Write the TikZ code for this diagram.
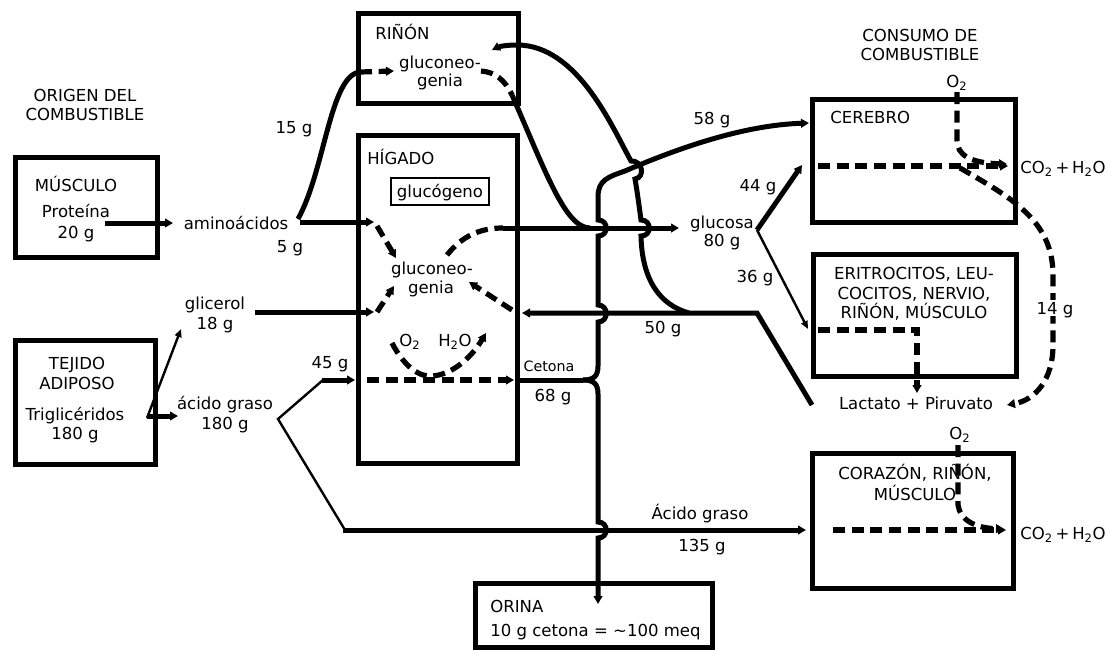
\documentclass[tikz,border=0pt]{standalone}
\usepackage{fontspec}
\setmainfont{DejaVu Sans}
\usetikzlibrary{arrows.meta}
\begin{document}
\begin{tikzpicture}[x=0.75pt,y=-0.75pt,
  lbl/.style={font=\fontsize{12.4}{14}\selectfont, inner sep=0pt, text height=9pt, text depth=0pt},
  small/.style={font=\fontsize{10.7}{12}\selectfont, inner sep=0pt, text height=7.8pt, text depth=0pt},
  box/.style={draw, line width=3.75pt},
  flow/.style={line width=3.75pt},
  thinl/.style={line width=1.8pt},
  dsh/.style={line width=3.9pt, dash pattern=on 9pt off 5pt},
  tip/.style={-{Triangle[length=6pt,width=6.5pt]}},
  tipthin/.style={-{Triangle[length=6pt,width=5pt]}}]
\useasboundingbox (0,0) rectangle (1108,650);
\fill[white] (0,0) rectangle (1108,650);

% headings
\node[lbl] (origen1) at (85,95) {ORIGEN DEL};
\node[lbl] (origen2) at (85,114) {COMBUSTIBLE};
\node[lbl] (consumo1) at (920,35) {CONSUMO DE};
\node[lbl] (consumo2) at (920,54) {COMBUSTIBLE};

% boxes
\draw[box] (15,157) rectangle (157,257);
\draw[box] (15,340) rectangle (155,464);
\draw[box] (358,13) rectangle (518,103);
\draw[box] (358,135) rectangle (517,463);
\draw[line width=1.9pt] (391,178) rectangle (489,205);
\draw[box] (812,99) rectangle (1015,222);
\draw[box] (813,254) rectangle (1016,376);
\draw[box] (812,453) rectangle (1013,588);
\draw[box] (475,583) rectangle (712,647);

% texts
\node[lbl] (musc) at (76,185) {MÚSCULO};
\node[lbl] (prot) at (76,211) {Proteína};
\node[lbl] (prot20) at (76,232) {20 g};
\node[lbl] (tej1) at (77,363) {TEJIDO};
\node[lbl] (tej2) at (77,383) {ADIPOSO};
\node[lbl] (trig) at (75,414) {Triglicéridos};
\node[lbl] (trig180) at (75,433) {180 g};
\node[lbl] (amino) at (236,223) {aminoácidos};
\node[lbl] (amino5) at (290,246) {5 g};
\node[lbl] (g15) at (294,127) {15 g};
\node[lbl] (glic) at (215,303) {glicerol};
\node[lbl] (glic18) at (215,323) {18 g};
\node[lbl] (acg) at (225,403) {ácido graso};
\node[lbl] (acg180) at (225,423) {180 g};
\node[lbl] (g45) at (330,362) {45 g};
\node[lbl, anchor=west] (rinon) at (375,33) {RIÑÓN};
\node[lbl] (rgn1) at (440,62) {gluconeo-};
\node[lbl] (rgn2) at (440,80) {genia};
\node[lbl, anchor=west] (higado) at (367,158) {HÍGADO};
\node[lbl] (glucogeno) at (440,191) {glucógeno};
\node[lbl] (hgn1) at (432,268) {gluconeo-};
\node[lbl] (hgn2) at (431,287) {genia};
\node[lbl] (ho2) at (410,340) {O\textsubscript{2}};
\node[lbl] (hh2o) at (455,340) {H\textsubscript{2}O};
\node[small] (cetona) at (549,366) {Cetona};
\node[lbl] (g68) at (553,395) {68 g};
\node[lbl] (g58) at (712,118) {58 g};
\node[lbl] (glucosa) at (722,222) {glucosa};
\node[lbl] (g80) at (722,240) {80 g};
\node[lbl] (g44) at (758,185) {44 g};
\node[lbl] (g36) at (755,276) {36 g};
\node[lbl] (g50) at (663,327) {50 g};
\node[lbl, anchor=west] (cerebro) at (830,117) {CEREBRO};
\node[lbl] (co1) at (957,81) {O\textsubscript{2}};
\node[lbl, anchor=west] (co2h2o1) at (1020,167) {CO\textsubscript{2}\,+\,H\textsubscript{2}O};
\node[lbl] (eri1) at (914,273) {ERITROCITOS, LEU-};
\node[lbl] (eri2) at (914,293) {COCITOS, NERVIO,};
\node[lbl] (eri3) at (914,312) {RIÑÓN, MÚSCULO};
\node[lbl] (lact) at (916,403) {Lactato + Piruvato};
\node[lbl] (co2) at (960,433) {O\textsubscript{2}};
\node[lbl] (cor1) at (915,473) {CORAZÓN, RIÑÓN,};
\node[lbl] (cor2) at (915,494) {MÚSCULO};
\node[lbl, anchor=east] (co2h2o2) at (1106,533) {CO\textsubscript{2}\,+\,H\textsubscript{2}O};
\node[lbl] (acg2) at (700,513) {Ácido graso};
\node[lbl] (g135) at (702,545) {135 g};
\node[lbl, anchor=west] (orina) at (490,606) {ORINA};
\node[lbl, anchor=west] (orina2) at (490,630) {10 g cetona = \textasciitilde100 meq};

% connectors, left side
\draw[flow,tip] (105,223) -- (173,223);
\draw[flow,tip] (300,222) -- (374,222);
\draw[flow] (298,219) .. controls (325,170) and (330,75) .. (360,72);
\draw[dsh,tip] (360,72) -- (394,71);
\draw[flow,tip] (255,312) -- (374,312);
\draw[flow,tip] (147,416) -- (178,416);
\draw[thinl,tipthin] (147,418) -- (181,329);
\draw[thinl] (323,380) -- (278,419) -- (345,530);
\draw[flow,tip] (322,380) -- (355,380);
\draw[flow,tip] (343,530) -- (806,530);

% kidney
\draw[dsh] (481,71) .. controls (495,72) and (505,80) .. (512,95);
\draw[flow] (512,95) .. controls (545,170) and (565,228) .. (590,228);

% liver inside
\draw[dsh,tip] (377,226) -- (396,258);
\draw[dsh,tip] (377,312) -- (394,286);
\draw[dsh,tip] (512,310) -- (469,282);
\draw[dsh] (447,255) .. controls (462,236) and (480,228) .. (503,228);
\draw[flow,tip] (503,228) -- (679,228);
\draw[dsh,tip] (392,343) .. controls (405,368) and (420,377) .. (432,376) .. controls (450,375) and (470,360) .. (486,333);
\draw[dsh,tip] (367,380) -- (514,380);

% lactate return
\draw[flow,tip] (812,405) -- (757,313) -- (522,313);
\draw[flow,tip] (689,313) .. controls (660,305) and (642,280) .. (641,236)
  .. controls (652,236) and (652,220) .. (641,220)
  .. controls (639,205) and (637,190) .. (635,179)
  .. controls (646,177) and (642,160) .. (631,161)
  .. controls (613,129) and (578,45) .. (517,45)
  .. controls (505,45) and (498,47) .. (492,50);

% ketone
\draw[flow] (520,380) -- (583,380);
\draw[flow,tip] (583,380) .. controls (594,380) and (598,376) .. (598,366) -- (598,322)
  .. controls (609,322) and (609,305) .. (598,305) -- (598,236)
  .. controls (609,236) and (609,220) .. (598,220) -- (598,197)
  .. controls (598,180) and (608,177) .. (625,171)
  .. controls (690,143) and (750,125) .. (809,123);
\draw[flow,tip] (583,380) .. controls (594,380) and (598,384) .. (598,394) -- (598,522)
  .. controls (609,522) and (609,538) .. (598,538) -- (598,604);

% glucose split
\draw[flow,tip] (757,230) -- (802,165);
\draw[thinl,tipthin] (757,230) -- (808,329);

% brain
\draw[dsh,tip] (818,166) -- (1008,166);
\draw[dsh,tip] (957,92) -- (957,140) .. controls (957,155) and (970,163) .. (1007,164);
\draw[dsh,tip] (960,168) .. controls (1010,197) and (1053,220) .. (1053,275) -- (1053,345) .. controls (1053,380) and (1035,400) .. (1007,405);
\node[lbl, fill=white, inner sep=1.5pt] (g14) at (1055,308) {14 g};

% erythrocytes
\draw[dsh,tip] (818,330) -- (917,330) -- (917,393);

% heart
\draw[dsh,tip] (833,530) -- (1006,530);
\draw[dsh,tip] (958,445) -- (958,505) .. controls (960,520) and (975,528) .. (1004,529);
\end{tikzpicture}
\end{document}
